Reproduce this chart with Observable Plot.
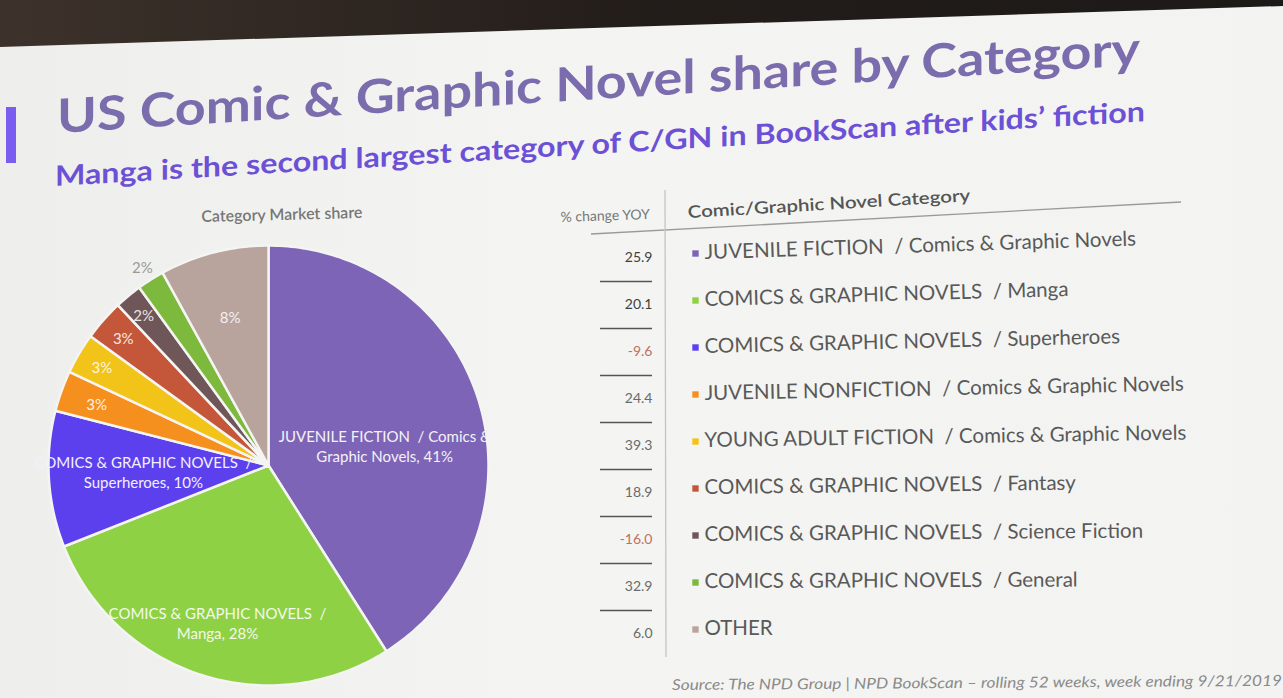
<!DOCTYPE html>
<html>
<head>
<meta charset="utf-8">
<script src="https://cdn.jsdelivr.net/npm/d3@7"></script>
<script src="https://cdn.jsdelivr.net/npm/@observablehq/plot@0.6"></script>
<style>
  html, body { margin: 0; padding: 0; }
  body {
    width: 1283px; height: 698px; overflow: hidden; position: relative;
    background: linear-gradient(90deg, #eeefec 0%, #f4f5f2 45%, #f3f3f1 100%);
    font-family: Lato, "Open Sans", sans-serif;
  }
  #overlay { position: absolute; left: 0; top: 0; pointer-events: none; }
  #pie { position: absolute; left: 28px; top: 225px; }
  #table { position: absolute; left: 520px; top: 180px; }
  #pie svg, #table svg { overflow: visible; background: transparent; }
</style>
</head>
<body>
<svg id="overlay" width="1283" height="698" xmlns="http://www.w3.org/2000/svg">
  <defs>
    <linearGradient id="bandGrad" x1="0" y1="0" x2="1" y2="0">
      <stop offset="0" stop-color="#3d322b"/>
      <stop offset="0.5" stop-color="#231d1a"/>
      <stop offset="1" stop-color="#1c1917"/>
    </linearGradient>
  </defs>
  <polygon points="0,0 1283,0 1283,6 0,47" fill="url(#bandGrad)"/>
  <rect x="6" y="107" width="10" height="56" fill="#7b5cf0"/>
  <text id="title" transform="translate(57,133) skewY(-3.6)" font-size="47" font-weight="700" fill="#7b6cae"
        textLength="1083" lengthAdjust="spacingAndGlyphs">US Comic &amp; Graphic Novel share by Category</text>
  <text id="subtitle" transform="translate(55,186) skewY(-3.4)" font-size="28" font-weight="700" fill="#6c50d6"
        textLength="1090" lengthAdjust="spacingAndGlyphs">Manga is the second largest category of C/GN in BookScan after kids’ fiction</text>
  <text transform="translate(282,220) rotate(-1.5)" text-anchor="middle" font-size="16" font-weight="600" fill="#777">Category Market share</text>
  <text transform="translate(650,219) rotate(-2)" text-anchor="end" font-size="14" fill="#777">% change YOY</text>
  <text transform="translate(688,218) rotate(-3.4)" font-size="17" font-weight="600" fill="#555"
        textLength="283" lengthAdjust="spacingAndGlyphs">Comic/Graphic Novel Category</text>
  <line x1="591" y1="234" x2="1181" y2="202" stroke="#9a9a9a" stroke-width="1.3"/>
  <line x1="665" y1="190" x2="666" y2="657" stroke="#c4c4c4" stroke-width="1.3"/>
  <text transform="translate(672,690) rotate(-0.4)" font-size="15" font-style="italic" fill="#8a8a8a"
        textLength="610" lengthAdjust="spacingAndGlyphs">Source: The NPD Group | NPD BookScan – rolling 52 weeks, week ending 9/21/2019</text>
</svg>
<div id="pie"></div>
<div id="table"></div>
<script>
// ---------------- data ----------------
const categories = [
  "JUVENILE FICTION\u00a0 / Comics & Graphic Novels",
  "COMICS & GRAPHIC NOVELS\u00a0 / Manga",
  "COMICS & GRAPHIC NOVELS\u00a0 / Superheroes",
  "JUVENILE NONFICTION\u00a0 / Comics & Graphic Novels",
  "YOUNG ADULT FICTION\u00a0 / Comics & Graphic Novels",
  "COMICS & GRAPHIC NOVELS\u00a0 / Fantasy",
  "COMICS & GRAPHIC NOVELS\u00a0 / Science Fiction",
  "COMICS & GRAPHIC NOVELS\u00a0 / General",
  "OTHER"
];
const shares = [41, 28, 10, 3, 3, 3, 2, 2, 8];
const yoyChange = [25.9, 20.1, -9.6, 24.4, 39.3, 18.9, -16.0, 32.9, 6.0];
const sliceLabels = [
  ["JUVENILE FICTION\u00a0 / Comics &", "Graphic Novels, 41%"],
  ["COMICS & GRAPHIC NOVELS\u00a0 /", "Manga, 28%"],
  ["COMICS & GRAPHIC NOVELS\u00a0 /", "Superheroes, 10%"],
  ["3%"], ["3%"], ["3%"], ["2%"], ["2%"], ["8%"]
];
const boldRows = [true, true, false, false, false, false, false, false, false];

// ---------------- styles / layout ----------------
const sliceColors = ["#7d64b6", "#8ed144", "#5c40ee", "#f5901f", "#f2c318", "#c4573a", "#6e5659", "#7db93c", "#b8a39d"];
const labelColors = ["#f4f2f8", "#f4f8ee", "#f2f0fb", "#fdf0e2", "#fdf6dc", "#f7e6e0", "#e8e2e2", "#9a9a9a", "#f5f0ee"];
const labelRadius = [0.55, 0.75, 0.57, 0.83, 0.88, 0.88, 0.89, 1.07, 0.70];
const labelDy = [14, 0, -2, 0, 0, 0, 0, 0, 0];

const rows = categories.map((c, i) => ({
  category: c, share: shares[i], yoy: yoyChange[i], color: sliceColors[i],
  label: sliceLabels[i], labelFill: labelColors[i], labelR: labelRadius[i], labelDy: labelDy[i],
  bold: boldRows[i], index: i
}));

// ---------------- pie ----------------
const arcs = d3.pie().sort(null).value(d => d.share)(rows);
const step = Math.PI / 180;
const slices = {
  type: "FeatureCollection",
  features: arcs.map(a => {
    const n = Math.max(2, Math.ceil((a.endAngle - a.startAngle) / step));
    const ring = [[0, 0]];
    for (let k = 0; k <= n; k++) {
      const t = a.startAngle + (a.endAngle - a.startAngle) * k / n;
      ring.push([Math.sin(t), -Math.cos(t)]);
    }
    ring.push([0, 0]);
    return {type: "Feature", properties: {color: a.data.color, category: a.data.category},
            geometry: {type: "Polygon", coordinates: [ring]}};
  })
};
const labelPts = arcs.map(a => {
  const m = (a.startAngle + a.endAngle) / 2, r = a.data.labelR;
  return {...a.data, lx: Math.sin(m) * r, ly: -Math.cos(m) * r};
});

const pie = Plot.plot({
  width: 480, height: 480, margin: 20,
  projection: {
    type: "identity",
    domain: {type: "Polygon", coordinates: [[[-1, -1], [1, -1], [1, 1], [-1, 1], [-1, -1]]]}
  },
  style: {background: "transparent", fontFamily: "Lato, 'Open Sans', sans-serif"},
  marks: [
    Plot.geo(slices, {fill: d => d.properties.color, stroke: "#f4f4f2", strokeWidth: 2.5}),
    ...labelPts.map(p => Plot.text([p], {
      x: "lx", y: "ly", text: d => d.label.join("\n"), fill: d => d.labelFill,
      fontSize: 15, lineHeight: 1.35, textAnchor: "middle", dy: p.labelDy
    }))
  ]
});
document.getElementById("pie").append(pie);

// ---------------- table ----------------
const table = Plot.plot({
  width: 763, height: 500, margin: 0,
  y: {type: "point", domain: categories, range: [76, 453], padding: 0, axis: null},
  x: {axis: null},
  style: {background: "transparent", fontFamily: "Lato, 'Open Sans', sans-serif"},
  marks: [
    Plot.ruleY(rows.slice(1), {y: "category", dy: -23, insetLeft: 80, insetRight: 631, stroke: "#555", strokeWidth: 1.6}),
    Plot.text(rows, {
      y: "category", frameAnchor: "left", dx: 132, textAnchor: "end",
      text: d => d.yoy.toFixed(1),
      fill: d => d.yoy < 0 ? "#c07060" : (d.bold ? "#3f3f3f" : "#6a6a6a"),
      fontWeight: d => d.bold ? 700 : 400, fontSize: 14
    }),
    Plot.dot(rows, {
      y: "category", frameAnchor: "left", dx: 175, dy: -4,
      symbol: "square", r: 3.6, fill: d => d.color, stroke: null
    }),
    Plot.text(rows, {
      y: "category", frameAnchor: "left", dx: 184, dy: -5, textAnchor: "start",
      text: "category", fill: "#595959", fontSize: 20.5,
      rotate: d => -1.8 * (1 - d.index / 8)
    })
  ]
});
document.getElementById("table").append(table);
</script>
</body>
</html>
